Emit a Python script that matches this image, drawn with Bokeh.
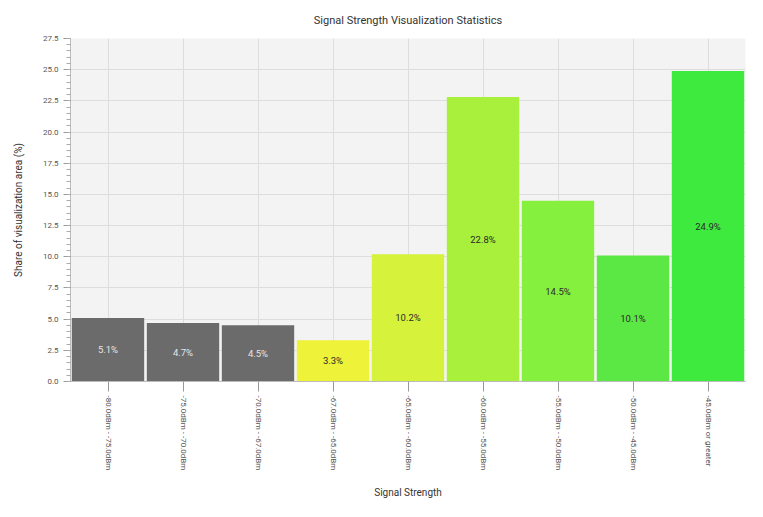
import math
from bokeh.plotting import figure
from bokeh.models import ColumnDataSource, FixedTicker, Range1d, FactorRange, PrintfTickFormatter
from bokeh.core.properties import value
from bokeh.embed import file_html
from bokeh.resources import INLINE

categories = [
    "-80.0dBm - -75.0dBm",
    "-75.0dBm - -70.0dBm",
    "-70.0dBm - -67.0dBm",
    "-67.0dBm - -65.0dBm",
    "-65.0dBm - -60.0dBm",
    "-60.0dBm - -55.0dBm",
    "-55.0dBm - -50.0dBm",
    "-50.0dBm - -45.0dBm",
    "-45.0dBm or greater",
]
shares = [5.1, 4.7, 4.5, 3.3, 10.2, 22.8, 14.5, 10.1, 24.9]
share_labels = ["5.1%", "4.7%", "4.5%", "3.3%", "10.2%", "22.8%", "14.5%", "10.1%", "24.9%"]

bar_colors = ["#6b6b6b", "#6b6b6b", "#6b6b6b", "#eef238", "#d6f23a", "#a8f03c",
              "#86f03f", "#5ce844", "#3eea3e"]
label_colors = ["#e6e6e6", "#e6e6e6", "#e6e6e6", "#2a2a2a", "#2a2a2a", "#2a2a2a",
                "#2a2a2a", "#2a2a2a", "#2a2a2a"]

source = ColumnDataSource(dict(
    cat=categories,
    share=shares,
    mid=[s / 2 for s in shares],
    lab=share_labels,
    fill=bar_colors,
    tcol=label_colors,
))

FONT = "Roboto"

p = figure(
    x_range=FactorRange(*categories, range_padding=0),
    y_range=Range1d(0, 27.5),
    width=747, height=501,
    output_backend="svg", toolbar_location=None,
    title="Signal Strength Visualization Statistics",
    min_border_left=70, min_border_right=2, min_border_top=37, min_border_bottom=100,
)

p.vbar(x="cat", top="share", width=0.965, source=source,
       fill_color="fill", line_color=None)
p.text(x="cat", y="mid", text="lab", source=source,
       text_color="tcol", text_align="center", text_baseline="middle",
       text_font=value(FONT), text_font_size="9.5px")

p.background_fill_color = "#f3f3f3"
p.border_fill_color = "white"
p.outline_line_color = None

p.title.align = "center"
p.title.text_font = FONT
p.title.text_font_style = "normal"
p.title.text_font_size = "11px"
p.title.text_color = "#333333"
p.title.offset = 0
p.title.standoff = 23

major = [i * 2.5 for i in range(12)]
minor = [i * 0.5 for i in range(56)]
p.yaxis.ticker = FixedTicker(ticks=major, minor_ticks=minor)
p.yaxis.formatter = PrintfTickFormatter(format="%.1f")
p.yaxis.axis_label = "Share of visualization area (%)"
p.xaxis.axis_label = "Signal Strength"

for ax in (p.xaxis, p.yaxis):
    ax.axis_label_text_font = FONT
    ax.axis_label_text_font_style = "normal"
    ax.axis_label_text_font_size = "10px"
    ax.axis_label_text_color = "#333333"
    ax.major_label_text_font = FONT
    ax.major_label_text_font_size = "8px"
    ax.major_label_text_color = "#555555"
    ax.axis_line_color = "#bbbbbb"
    ax.major_tick_line_color = "#999999"
    ax.minor_tick_line_color = "#aaaaaa"

p.yaxis.major_tick_in = 0
p.yaxis.major_tick_out = 7
p.yaxis.minor_tick_in = 0
p.yaxis.minor_tick_out = 4
p.yaxis.axis_label_standoff = 16
p.yaxis.major_label_standoff = 5

p.xaxis.major_tick_in = 0
p.xaxis.major_tick_out = 10
p.xaxis.major_label_orientation = -math.pi / 2
p.xaxis.major_label_text_font_size = "8px"
p.xaxis.major_label_standoff = 4
p.xaxis.axis_label_standoff = 14

p.xgrid.grid_line_color = "#dddddd"
p.ygrid.grid_line_color = "#dddddd"

open("out.html", "w").write(file_html(p, INLINE))
